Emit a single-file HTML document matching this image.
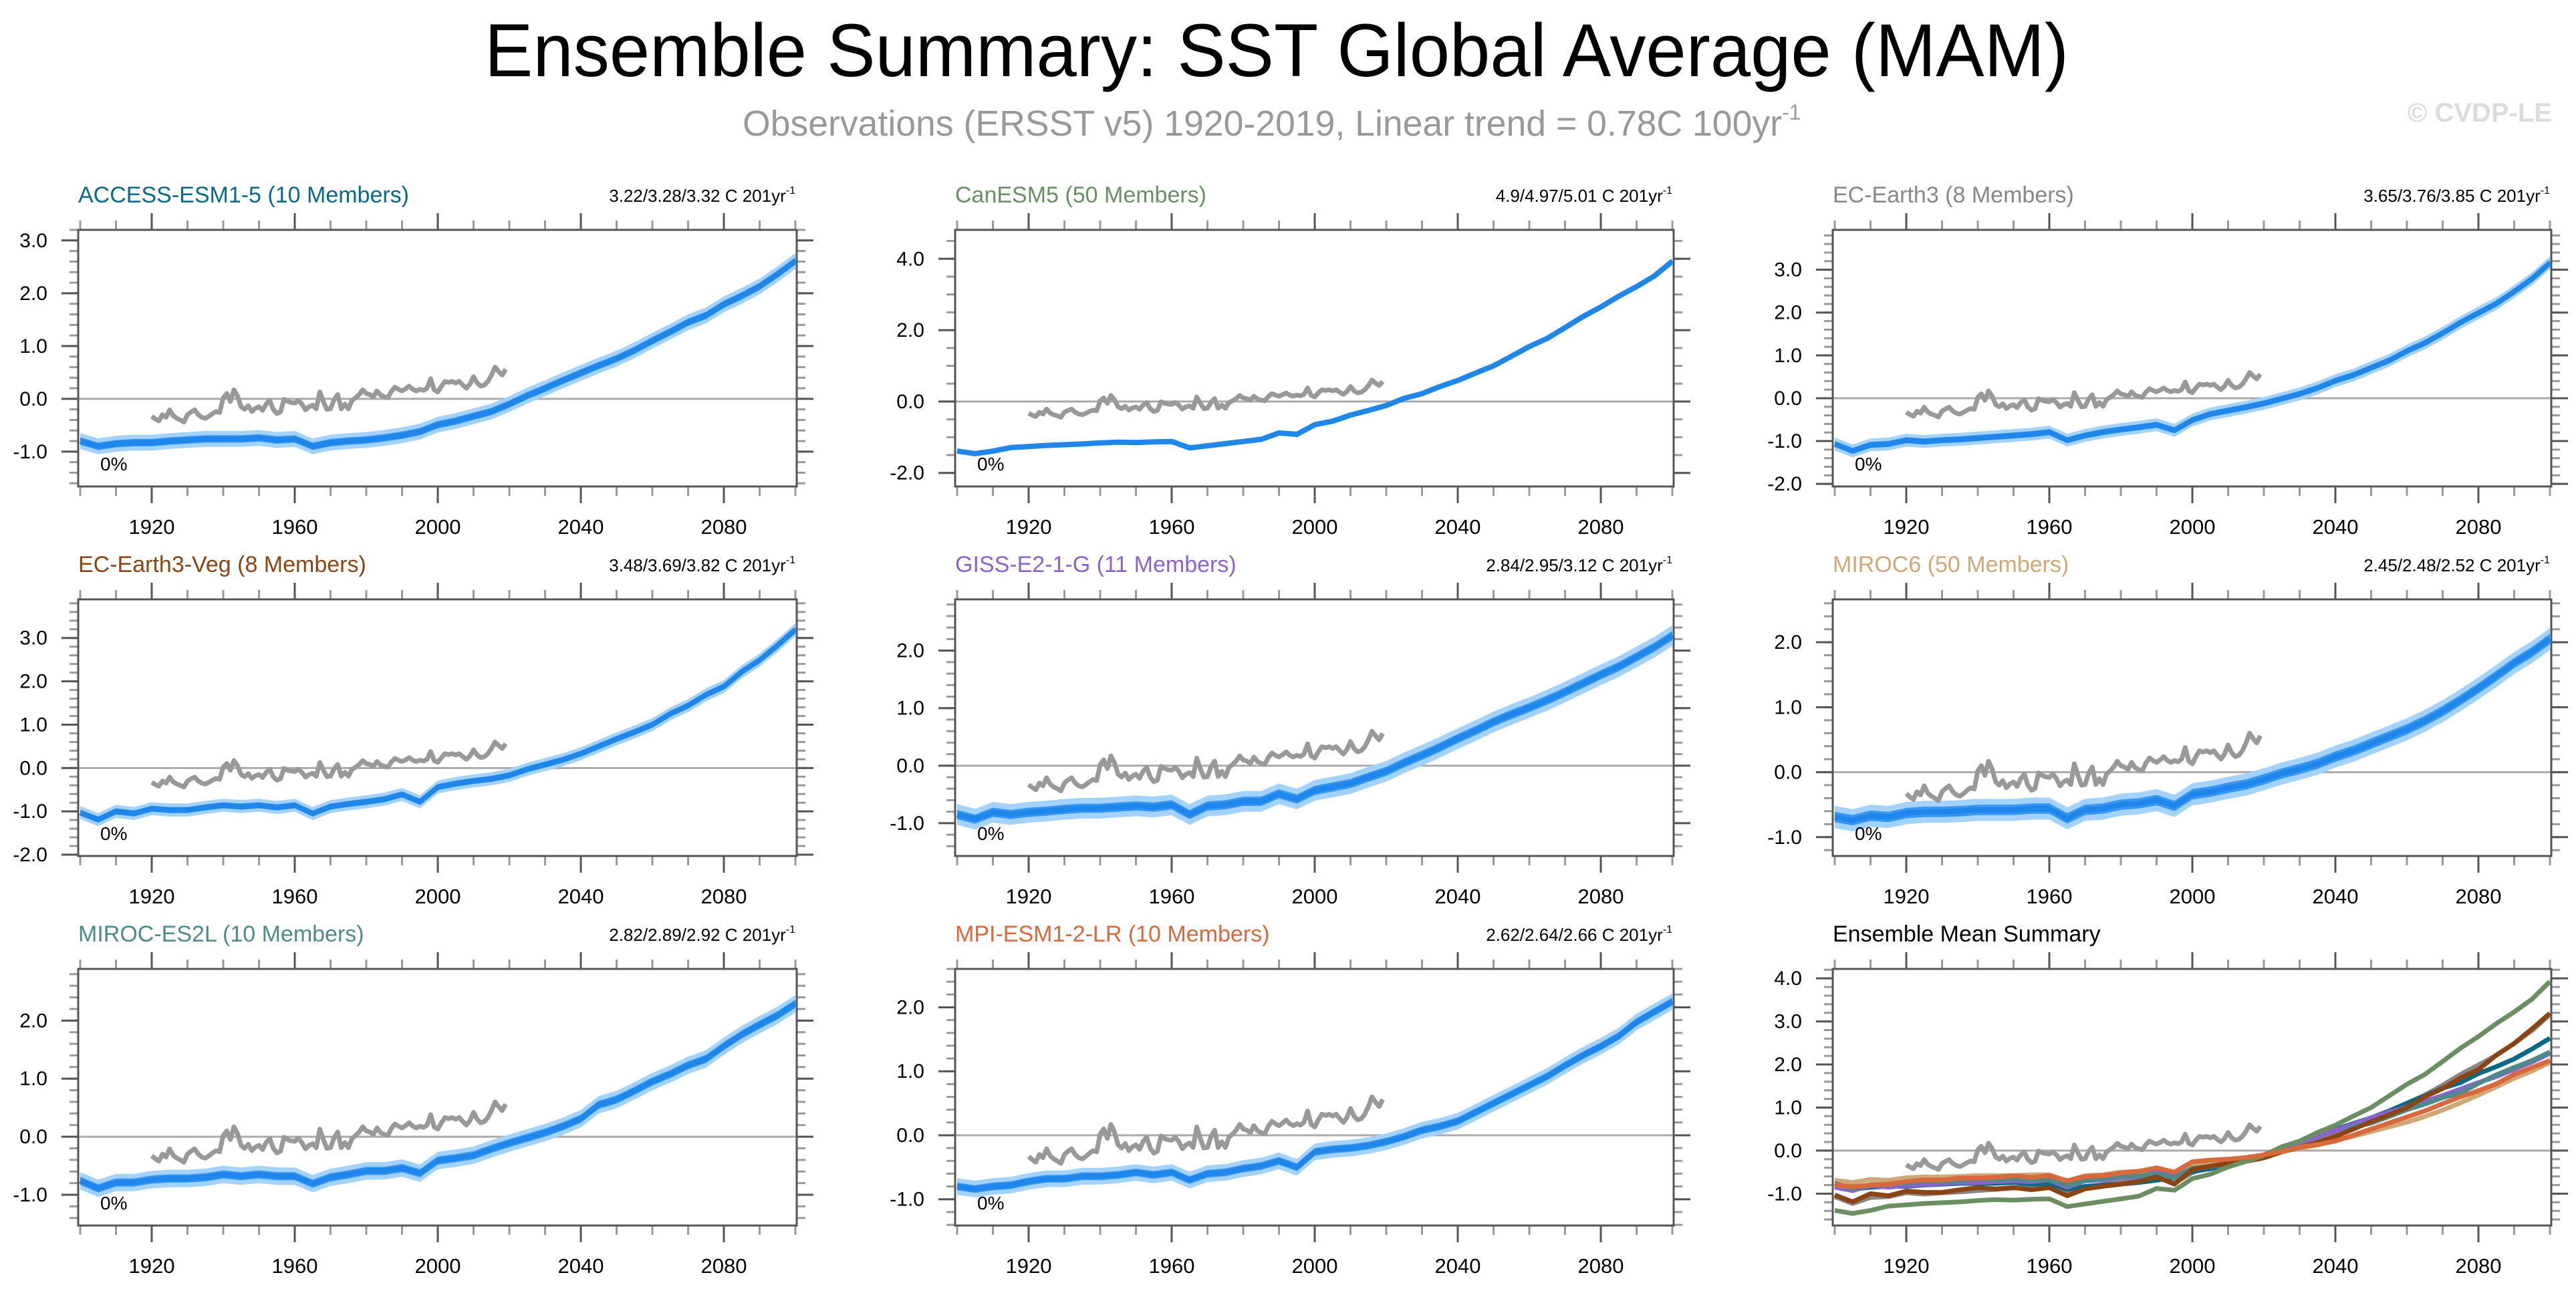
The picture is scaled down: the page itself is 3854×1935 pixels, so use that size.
<!DOCTYPE html>
<html>
<head>
<meta charset="utf-8">
<style>
  html,body{margin:0;padding:0;background:#fff;}
  svg{display:block;font-family:"Liberation Sans",Arial,sans-serif;}
</style>
</head>
<body>
<svg id="fig" width="3854" height="1935" viewBox="0 0 3854 1935" xmlns="http://www.w3.org/2000/svg">
  <rect width="3854" height="1935" fill="#fff"/>
  <text x="725" y="114" font-size="112" textLength="2370" lengthAdjust="spacingAndGlyphs" fill="#000">Ensemble Summary: SST Global Average (MAM)</text>
  <text x="1111" y="203" font-size="54" fill="#999"><tspan textLength="1555" lengthAdjust="spacingAndGlyphs">Observations (ERSST v5) 1920-2019, Linear trend = 0.78C 100yr</tspan><tspan font-size="32" dy="-24">-1</tspan></text>
  <text x="3818" y="182" font-size="40" font-weight="bold" fill="#dcdcdc" text-anchor="end">© CVDP-LE</text>
  <g id="panels"></g>
</svg>
<script>
// ---------- data ----------
const years = [1900,1905,1910,1915,1920,1925,1930,1935,1940,1945,1950,1955,1960,1965,1970,1975,1980,1985,1990,1995,2000,2005,2010,2015,2020,2025,2030,2035,2040,2045,2050,2055,2060,2065,2070,2075,2080,2085,2090,2095,2100];
const obsYears = [1920,1921,1922,1923,1924,1925,1926,1927,1928,1929,1930,1931,1932,1933,1934,1935,1936,1937,1938,1939,1940,1941,1942,1943,1944,1945,1946,1947,1948,1949,1950,1951,1952,1953,1954,1955,1956,1957,1958,1959,1960,1961,1962,1963,1964,1965,1966,1967,1968,1969,1970,1971,1972,1973,1974,1975,1976,1977,1978,1979,1980,1981,1982,1983,1984,1985,1986,1987,1988,1989,1990,1991,1992,1993,1994,1995,1996,1997,1998,1999,2000,2001,2002,2003,2004,2005,2006,2007,2008,2009,2010,2011,2012,2013,2014,2015,2016,2017,2018,2019];
const obsValues = [-0.33,-0.38,-0.42,-0.30,-0.35,-0.21,-0.32,-0.37,-0.40,-0.44,
 -0.30,-0.25,-0.21,-0.30,-0.35,-0.37,-0.33,-0.28,-0.24,-0.26,
 0.02,0.10,-0.05,0.17,0.05,-0.15,-0.20,-0.13,-0.24,-0.18,
 -0.15,-0.22,-0.10,-0.03,-0.20,-0.28,-0.25,-0.01,-0.05,-0.07,
 -0.08,-0.03,-0.10,-0.21,-0.15,-0.12,-0.19,0.13,-0.05,-0.20,
 -0.19,-0.02,0.08,-0.19,-0.10,-0.19,-0.03,0.02,0.08,0.17,
 0.10,0.08,0.04,0.15,0.07,0.04,0.02,0.14,0.22,0.18,
 0.15,0.19,0.24,0.18,0.15,0.18,0.16,0.20,0.38,0.17,
 0.13,0.24,0.33,0.31,0.33,0.30,0.33,0.26,0.20,0.28,
 0.42,0.30,0.24,0.26,0.33,0.45,0.60,0.52,0.45,0.56];

const accessMean = [-0.80,-0.90,-0.85,-0.83,-0.83,-0.80,-0.78,-0.76,-0.76,-0.76,-0.74,-0.78,-0.76,-0.90,-0.83,-0.80,-0.78,-0.74,-0.69,-0.62,-0.49,-0.42,-0.33,-0.24,-0.10,0.06,0.20,0.35,0.49,0.63,0.76,0.92,1.10,1.27,1.45,1.58,1.79,1.95,2.13,2.36,2.61];
const canesmMean = [-1.39,-1.46,-1.39,-1.29,-1.26,-1.23,-1.21,-1.19,-1.16,-1.14,-1.15,-1.13,-1.12,-1.30,-1.24,-1.18,-1.12,-1.06,-0.88,-0.92,-0.65,-0.55,-0.38,-0.25,-0.11,0.09,0.22,0.42,0.59,0.80,1.00,1.27,1.54,1.77,2.07,2.38,2.65,2.95,3.22,3.52,3.93];
const ecearthMean = [-1.07,-1.23,-1.09,-1.07,-0.98,-1.01,-0.98,-0.96,-0.93,-0.90,-0.87,-0.84,-0.79,-0.98,-0.87,-0.79,-0.73,-0.68,-0.62,-0.75,-0.51,-0.37,-0.29,-0.21,-0.12,-0.01,0.10,0.24,0.41,0.54,0.71,0.88,1.10,1.29,1.52,1.77,1.99,2.21,2.49,2.79,3.16];
const ecvegMean = [-1.03,-1.19,-1.00,-1.05,-0.94,-0.97,-0.97,-0.91,-0.86,-0.89,-0.86,-0.91,-0.86,-1.05,-0.89,-0.83,-0.78,-0.72,-0.61,-0.78,-0.44,-0.36,-0.30,-0.25,-0.17,-0.03,0.08,0.19,0.33,0.50,0.67,0.83,1.00,1.25,1.44,1.69,1.88,2.22,2.49,2.83,3.19];
const gissMean = [-0.85,-0.93,-0.81,-0.85,-0.81,-0.79,-0.76,-0.74,-0.74,-0.72,-0.70,-0.72,-0.68,-0.85,-0.70,-0.68,-0.62,-0.62,-0.49,-0.58,-0.43,-0.37,-0.31,-0.20,-0.10,0.05,0.18,0.32,0.47,0.61,0.76,0.89,1.01,1.14,1.28,1.43,1.58,1.72,1.89,2.06,2.26];
const miroc6Mean = [-0.69,-0.74,-0.67,-0.69,-0.63,-0.61,-0.61,-0.60,-0.58,-0.58,-0.58,-0.56,-0.56,-0.71,-0.58,-0.56,-0.50,-0.48,-0.43,-0.52,-0.34,-0.30,-0.24,-0.19,-0.11,-0.02,0.05,0.13,0.24,0.33,0.44,0.55,0.66,0.79,0.94,1.11,1.29,1.48,1.68,1.85,2.05];
const mirocEs2lMean = [-0.76,-0.89,-0.79,-0.79,-0.74,-0.72,-0.72,-0.70,-0.65,-0.68,-0.65,-0.68,-0.68,-0.81,-0.70,-0.65,-0.59,-0.59,-0.54,-0.63,-0.41,-0.37,-0.32,-0.21,-0.11,-0.02,0.07,0.18,0.31,0.55,0.64,0.79,0.95,1.08,1.23,1.34,1.56,1.76,1.93,2.09,2.29];
const mpiMean = [-0.80,-0.84,-0.80,-0.78,-0.72,-0.68,-0.68,-0.64,-0.64,-0.62,-0.58,-0.62,-0.58,-0.70,-0.60,-0.58,-0.52,-0.48,-0.40,-0.50,-0.26,-0.22,-0.20,-0.16,-0.10,-0.02,0.08,0.14,0.22,0.36,0.50,0.64,0.78,0.92,1.09,1.25,1.39,1.55,1.77,1.93,2.09];

// ensemble spread half-widths (data units): [outer, inner]
const accessSpread = [0.15,0.07];
const canesmSpread = [0.07,0.035];
const ecearthSpread = [0.15,0.07];
const ecvegSpread = [0.15,0.07];
const gissSpread = [0.18,0.08];
const miroc6Spread = [0.17,0.08];
const mirocEs2lSpread = [0.15,0.07];
const mpiSpread = [0.13,0.06];

const xTickLabels = [1920,1960,2000,2040,2080];
const yTicks3 = [-1,0,1,2,3];
const yTicksCan = [-2,0,2,4];
const yTicksEC = [-2,-1,0,1,2,3];
const yTicks2 = [-1,0,1,2];
const yTicksSum = [-1,0,1,2,3,4];

// ---------- layout ----------
const NS = "http://www.w3.org/2000/svg";
const root = document.getElementById('panels');
const COLX = [117,1429,2742], ROWY = [344,897,1450], PW = 1075, PH = 384;

const panels = [
 {key:'access-esm1-5', title:'ACCESS-ESM1-5 (10 Members)', color:'#0a6a85', trend:'3.22/3.28/3.32 C 201yr', c:0,r:0, ymin:-1.66,ymax:3.20, ticks:yTicks3, minor:0.2, mean:accessMean, spread:accessSpread},
 {key:'canesm5', title:'CanESM5 (50 Members)', color:'#6b8f63', trend:'4.9/4.97/5.01 C 201yr', c:1,r:0, ymin:-2.38,ymax:4.81, ticks:yTicksCan, minor:0.5, mean:canesmMean, spread:canesmSpread},
 {key:'ec-earth3', title:'EC-Earth3 (8 Members)', color:'#8c8585', trend:'3.65/3.76/3.85 C 201yr', c:2,r:0, ymin:-2.06,ymax:3.93, ticks:yTicksEC, minor:0.2, mean:ecearthMean, spread:ecearthSpread},
 {key:'ec-earth3-veg', title:'EC-Earth3-Veg (8 Members)', color:'#8b4513', trend:'3.48/3.69/3.82 C 201yr', c:0,r:1, ymin:-2.03,ymax:3.89, ticks:yTicksEC, minor:0.2, mean:ecvegMean, spread:ecvegSpread},
 {key:'giss-e2-1-g', title:'GISS-E2-1-G (11 Members)', color:'#8a63d2', trend:'2.84/2.95/3.12 C 201yr', c:1,r:1, ymin:-1.57,ymax:2.89, ticks:yTicks2, minor:0.2, mean:gissMean, spread:gissSpread},
 {key:'miroc6', title:'MIROC6 (50 Members)', color:'#cfa878', trend:'2.45/2.48/2.52 C 201yr', c:2,r:1, ymin:-1.29,ymax:2.66, ticks:yTicks2, minor:0.2, mean:miroc6Mean, spread:miroc6Spread},
 {key:'miroc-es2l', title:'MIROC-ES2L (10 Members)', color:'#4f8a8b', trend:'2.82/2.89/2.92 C 201yr', c:0,r:2, ymin:-1.53,ymax:2.89, ticks:yTicks2, minor:0.2, mean:mirocEs2lMean, spread:mirocEs2lSpread},
 {key:'mpi-esm1-2-lr', title:'MPI-ESM1-2-LR (10 Members)', color:'#d9683a', trend:'2.62/2.64/2.66 C 201yr', c:1,r:2, ymin:-1.41,ymax:2.60, ticks:yTicks2, minor:0.2, mean:mpiMean, spread:mpiSpread}
];

function mk(tag, attrs, parent){
  const e = document.createElementNS(NS, tag);
  for (const k in attrs) e.setAttribute(k, attrs[k]);
  (parent||root).appendChild(e);
  return e;
}

function makeAxes(g, px, py, ymin, ymax){
  const xs = yr => px + 3 + (yr - 1900) / 200 * (PW - 5);
  const ys = v => py + PH - (v - ymin) / (ymax - ymin) * PH;
  return {xs, ys};
}

function drawFrame(g, px, py, ax, ticks, minor, ymin, ymax, tag){
  const start = Math.ceil(ymin / minor - 1e-6);
  for (let i = start; i * minor <= ymax + 1e-6; i++){
    const y = ax.ys(i * minor);
    mk('line',{x1:px-13,x2:px,y1:y,y2:y,stroke:'#999','stroke-width':3},g);
    mk('line',{x1:px+PW,x2:px+PW+13,y1:y,y2:y,stroke:'#999','stroke-width':3},g);
  }
  const z = mk('line',{x1:px,x2:px+PW,y1:ax.ys(0),y2:ax.ys(0),stroke:'#aaa','stroke-width':3},g);
  
  
  ticks.forEach(t => {
    const y = ax.ys(t);
    mk('line',{x1:px-25,x2:px,y1:y,y2:y,stroke:'#555','stroke-width':3},g);
    mk('line',{x1:px+PW,x2:px+PW+25,y1:y,y2:y,stroke:'#555','stroke-width':3},g);
    const lb = mk('text',{x:px-46,y:y+10,'font-size':30,'text-anchor':'end',fill:'#000'},g);
    lb.textContent = t.toFixed(1);
    
    
  });
  for (let yr = 1900; yr <= 2100; yr += 10){
    const x = ax.xs(yr);
    mk('line',{x1:x,x2:x,y1:py+PH,y2:py+PH+14,stroke:'#999','stroke-width':3},g);
    mk('line',{x1:x,x2:x,y1:py-14,y2:py,stroke:'#999','stroke-width':3},g);
  }
  xTickLabels.forEach(yr => {
    const x = ax.xs(yr);
    mk('line',{x1:x,x2:x,y1:py+PH,y2:py+PH+25,stroke:'#555','stroke-width':3},g);
    mk('line',{x1:x,x2:x,y1:py-25,y2:py,stroke:'#555','stroke-width':3},g);
    const lb = mk('text',{x:x,y:py+PH+71,'font-size':31,'text-anchor':'middle',fill:'#000'},g);
    lb.textContent = yr;
    
    
  });
  const fr = mk('rect',{x:px,y:py,width:PW,height:PH,fill:'none',stroke:'#555','stroke-width':3},g);
  
  
}

function lineD(ax, xsArr, vals){
  return vals.map((v,i) => (i?'L':'M') + ax.xs(xsArr[i]).toFixed(1) + ' ' + ax.ys(v).toFixed(1)).join(' ');
}
function bandD(ax, vals, w){
  const up = vals.map((v,i) => (i?'L':'M') + ax.xs(years[i]).toFixed(1) + ' ' + ax.ys(v + w).toFixed(1));
  const dn = vals.map((v,i) => 'L' + ax.xs(years[i]).toFixed(1) + ' ' + ax.ys(v - w).toFixed(1)).reverse();
  return up.join(' ') + ' ' + dn.join(' ') + ' Z';
}

panels.forEach(p => {
  const px = COLX[p.c], py = ROWY[p.r];
  const g = mk('g',{});
  
  
  const ax = makeAxes(g, px, py, p.ymin, p.ymax);
  drawFrame(g, px, py, ax, p.ticks, p.minor, p.ymin, p.ymax, p.key);

  const outer = mk('path',{d:bandD(ax,p.mean,p.spread[0]),fill:'#a3d2ff',stroke:'none'},g);
  
  
  const inner = mk('path',{d:bandD(ax,p.mean,p.spread[1]),fill:'#3597f3',stroke:'none'},g);
  
  
  const ml = mk('path',{d:lineD(ax,years,p.mean),fill:'none',stroke:'#1f86ec','stroke-width':8,'stroke-linejoin':'round'},g);
  
  
  const ob = mk('path',{d:lineD(ax,obsYears,obsValues),fill:'none',stroke:'#999','stroke-width':7,'stroke-linejoin':'round'},g);
  
  

  const pc = mk('text',{x:px+33,y:py+PH-24,'font-size':28,fill:'#000'},g);
  pc.textContent = '0%';
  
  

  const t = mk('text',{x:px,y:py-41,'font-size':34,fill:p.color},g);
  t.textContent = p.title;
  
  

  const tr = mk('text',{x:px+PW-2,y:py-42,'font-size':26,fill:'#000','text-anchor':'end'},g);
  const ts1 = mk('tspan',{},tr); ts1.textContent = p.trend;
  const ts2 = mk('tspan',{'font-size':16,dy:-12},tr); ts2.textContent = '-1';
  
  
});

// ---------- summary panel ----------
(function(){
  const px = COLX[2], py = ROWY[2];
  const ymin = -1.74, ymax = 4.22;
  const g = mk('g',{});
  
  
  const ax = makeAxes(g, px, py, ymin, ymax);
  drawFrame(g, px, py, ax, yTicksSum, 0.2, ymin, ymax, 'summary');
  const order = [5,2,0,4,6,3,1,7];
  order.forEach(i => {
    const p = panels[i];
    const l = mk('path',{d:lineD(ax,years,p.mean),fill:'none',stroke:p.color,'stroke-width':7,'stroke-linejoin':'round'},g);
    
    
  });
  const ob = mk('path',{d:lineD(ax,obsYears,obsValues),fill:'none',stroke:'#999','stroke-width':7,'stroke-linejoin':'round'},g);
  
  
  const t = mk('text',{x:px,y:py-41,'font-size':34,fill:'#000'},g);
  t.textContent = 'Ensemble Mean Summary';
  
  
})();
</script>
</body>
</html>
